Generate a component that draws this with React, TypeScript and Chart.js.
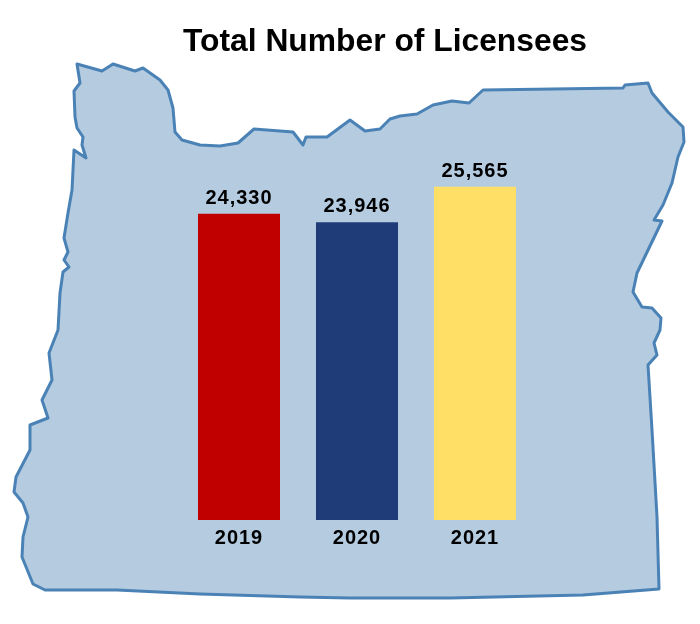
import React, { useEffect, useRef } from "react";
import { Chart, registerables } from "chart.js";

Chart.register(...registerables);

const TITLE = "Total Number of Licensees";
const YEARS = ["2019", "2020", "2021"];
const LICENSEES = [24330, 23946, 25565];
const BAR_COLORS = ["#C00000", "#1F3B78", "#FFDF66"];

// Decorative backdrop: the outline of Oregon, in canvas pixels.
const OREGON_OUTLINE: [number, number][] = [
  [77, 64], [102, 71], [113, 64], [135, 71], [143, 68], [160, 80], [168, 90], [173, 108], [175, 132],
  [182, 140], [200, 145], [220, 146], [238, 143], [254, 129], [293, 132], [303, 145], [306, 137],
  [327, 137], [350, 120], [365, 131], [380, 129], [390, 119], [400, 116], [417, 114], [433, 105],
  [452, 101], [469, 103], [483, 90], [623, 88], [625, 85], [648, 83], [652, 93], [668, 112], [683, 127],
  [684, 142], [678, 157], [672, 183], [663, 205], [654, 220], [662, 221], [637, 273], [633, 292],
  [642, 307], [652, 308], [661, 318], [660, 330], [654, 343], [657, 355], [648, 365], [652, 430],
  [657, 517], [659, 589], [583, 595], [450, 598], [350, 598], [300, 597], [200, 594], [117, 590],
  [45, 590], [33, 584], [22, 557], [23, 537], [28, 517], [23, 503], [14, 492], [16, 477], [30, 450],
  [30, 425], [48, 418], [42, 400], [52, 380], [49, 353], [58, 330], [60, 293], [63, 272], [69, 267],
  [64, 260], [68, 252], [64, 238], [68, 213], [72, 190], [74, 150], [86, 158], [82, 145], [83, 137],
  [77, 128], [75, 117], [74, 91], [80, 83],
];

const FONT = "'Liberation Sans', Arial, sans-serif";

const backdropPlugin = {
  id: "backdrop",
  afterLayout(chart: any) {
    // centre the title over the map rather than over the plot
    chart.titleBlock.left = 0;
    chart.titleBlock.right = 770;
  },
  beforeDraw(chart: any) {
    const ctx = chart.ctx;
    ctx.save();
    ctx.beginPath();
    OREGON_OUTLINE.forEach(([x, y], i) => (i ? ctx.lineTo(x, y) : ctx.moveTo(x, y)));
    ctx.closePath();
    ctx.fillStyle = "#B4CBE0";
    ctx.fill();
    ctx.strokeStyle = "#4A82B6";
    ctx.lineWidth = 3;
    ctx.lineJoin = "round";
    ctx.stroke();
    ctx.restore();
  },
  beforeDatasetsDraw(chart: any) {
    chart.ctx.letterSpacing = "1px";
  },
  afterDatasetsDraw(chart: any) {
    const ctx = chart.ctx;
    ctx.save();
    ctx.font = `bold 20px ${FONT}`;
    ctx.fillStyle = "#000";
    ctx.textAlign = "center";
    ctx.textBaseline = "alphabetic";
    chart.getDatasetMeta(0).data.forEach((bar: any, i: number) => {
      ctx.fillText(LICENSEES[i].toLocaleString("en-US"), bar.x, bar.y - 10);
    });
    ctx.restore();
  },
  afterDraw(chart: any) {
    chart.ctx.letterSpacing = "0px";
  },
};

export default function App() {
  const ref = useRef<HTMLCanvasElement>(null);
  useEffect(() => {
    const chart = new Chart(ref.current!, {
      type: "bar",
      data: {
        labels: YEARS,
        datasets: [
          {
            data: LICENSEES,
            backgroundColor: BAR_COLORS,
            borderWidth: 0,
            categoryPercentage: 1,
            barPercentage: 0.695,
          },
        ],
      },
      options: {
        responsive: false,
        animation: false,
        layout: { padding: { left: 180, right: 166, top: 23, bottom: 68 } },
        plugins: {
          legend: { display: false },
          tooltip: { enabled: false },
          title: {
            display: true,
            text: TITLE,
            color: "#000",
            font: { family: FONT, size: 31.8, weight: "bold" },
            padding: { top: 0, bottom: 39 },
          },
        },
        scales: {
          x: {
            grid: { display: false, drawTicks: false },
            border: { display: false },
            ticks: {
              z: 1,
              padding: 6,
              color: "#000",
              font: { family: FONT, size: 20, weight: "bold" },
            },
          },
          y: { display: false, min: 10400, max: 29500 },
        },
      },
      plugins: [backdropPlugin],
    } as any);
    return () => chart.destroy();
  }, []);
  return (
    <div style={{ position: "absolute", left: 0, top: 0 }}>
      <canvas ref={ref} width={700} height={624} style={{ display: "block" }} />
    </div>
  );
}
